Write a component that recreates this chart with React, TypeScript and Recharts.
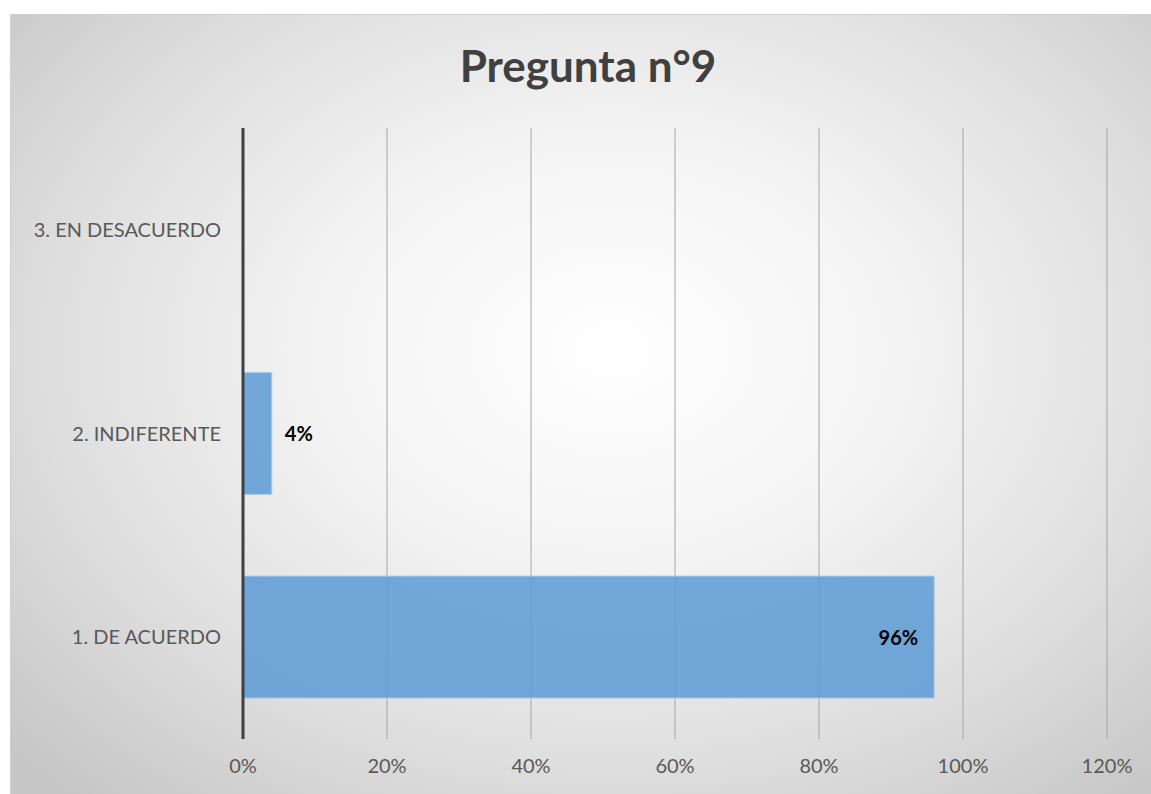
import React from "react";
import { BarChart, Bar, XAxis, YAxis, CartesianGrid, LabelList } from "recharts";

const categories = ["1. DE ACUERDO", "2. INDIFERENTE", "3. EN DESACUERDO"];
const values = [0.96, 0.04, 0];
const xTicks = [0, 0.2, 0.4, 0.6, 0.8, 1.0, 1.2];

const data = categories.map((name, i) => ({ name, value: values[i] }));

const FONT = "Lato, 'Open Sans', sans-serif";
const pct = (v: number) => `${Math.round(v * 100)}%`;

function ValueLabel(props: any) {
  const { x, y, width, height, value } = props;
  const cy = y + height / 2;
  const inside = value >= 0.5;
  const color = value === 0 ? "#ffffff" : "#000000";
  return (
    <text
      x={inside ? x + width - 16 : x + width + 13}
      y={cy}
      textAnchor={inside ? "end" : "start"}
      dominantBaseline="central"
      fill={color}
      fontSize={20}
      fontWeight={700}
      fontFamily={FONT}
    >
      {pct(value)}
    </text>
  );
}

export default function App() {
  return (
    <div style={{ position: "relative", width: 1151, height: 794, overflow: "hidden", background: "#fff" }}>
      <style>{"body{margin:0}"}</style>
      <div
        style={{
          position: "absolute",
          left: 10,
          top: 14,
          width: 1160,
          height: 800,
          border: "1px solid #d0d0d0",
          boxSizing: "border-box",
          background:
            "radial-gradient(ellipse 70% 75% at 52% 42%, #ffffff 0%, #f4f4f4 35%, #dedede 70%, #c6c6c6 100%)",
        }}
      >
        <div
          style={{
            position: "absolute",
            left: 0,
            top: 24,
            width: 1154,
            textAlign: "center",
            fontFamily: FONT,
            fontWeight: 700,
            fontSize: 44,
            color: "#404040",
          }}
        >
          Pregunta n°9
        </div>
        <BarChart
          width={1141}
          height={780}
          data={data}
          layout="vertical"
          margin={{ top: 113, right: 45, bottom: 0, left: 0 }}
          barCategoryGap="20%"
          style={{ position: "absolute", left: 0, top: 0 }}
        >
          <CartesianGrid horizontal={false} stroke="#a6a6a6" strokeWidth={1} />
          <XAxis
            type="number"
            domain={[0, 1.2]}
            ticks={xTicks}
            tickFormatter={pct}
            axisLine={false}
            tickLine={false}
            tickSize={0}
            tickMargin={20}
            height={56}
            tick={{ fill: "#595959", fontSize: 20, fontFamily: FONT }}
          />
          <YAxis
            type="category"
            dataKey="name"
            reversed
            width={232}
            axisLine={{ stroke: "#404040", strokeWidth: 3 }}
            tickLine={false}
            tickSize={0}
            tickMargin={22}
            tick={{ fill: "#595959", fontSize: 20, fontFamily: FONT }}
          />
          <Bar
            dataKey="value"
            fill="#5b9bd5"
            fillOpacity={0.85}
            stroke="#a9cbec"
            strokeWidth={1}
            isAnimationActive={false}
          >
            <LabelList dataKey="value" content={ValueLabel} />
          </Bar>
        </BarChart>
      </div>
    </div>
  );
}
